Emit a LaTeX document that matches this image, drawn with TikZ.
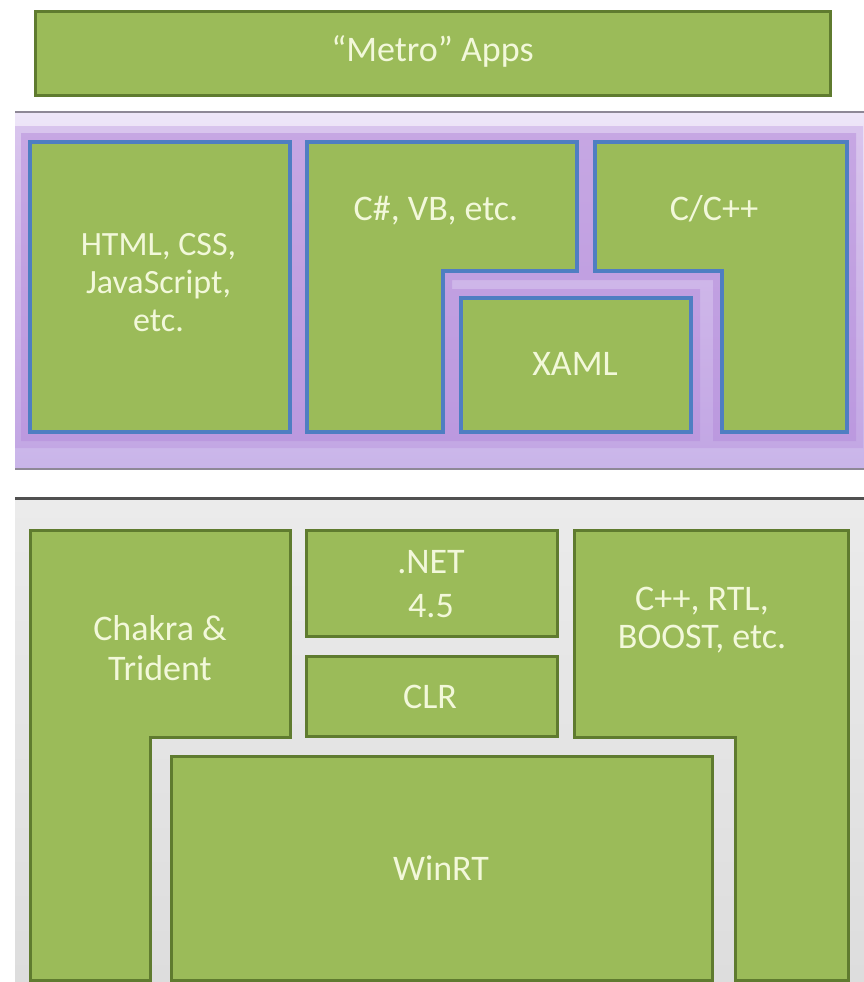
\documentclass[tikz,border=0pt]{standalone}
\usepackage{fontspec}
\setmainfont{Carlito}
\definecolor{boxgreen}{HTML}{9BBB59}
\definecolor{greenline}{HTML}{5F7B2F}
\definecolor{boxblue}{HTML}{4F7EC2}
\definecolor{glow}{HTML}{B58BDB}
\definecolor{bandtop}{HTML}{EEE6F8}
\definecolor{bandbot}{HTML}{C9B4E9}
\definecolor{bandline}{HTML}{8E8896}
\definecolor{sepline}{HTML}{505050}
\definecolor{labelcol}{HTML}{F2F8DA}
\definecolor{greytop}{HTML}{EBEBEB}
\definecolor{greybot}{HTML}{DDDDDD}
\tikzset{
  lbl/.style={text=labelcol, font=\fontsize{36}{42}\selectfont, anchor=base, inner sep=0pt},
  lblsmall/.style={lbl, font=\fontsize{34}{40}\selectfont},
  greenbox/.style={fill=boxgreen, draw=greenline, line width=3pt},
  bluebox/.style={fill=boxgreen, draw=boxblue, line width=4pt},
  glowpath/.style={draw=glow, line join=miter},
}
\newcommand{\glowshapes}{%
  (30,142) rectangle (290,432)
  (307,142) -- (577,142) -- (577,271) -- (443,271) -- (443,432) -- (307,432) -- cycle
  (595,142) -- (847,142) -- (847,432) -- (722,432) -- (722,271) -- (595,271) -- cycle
  (461,298) rectangle (691,432)}
\begin{document}
\begin{tikzpicture}[x=1pt,y=-1pt]
\useasboundingbox (0,0) rectangle (864,982);
\fill[white] (0,0) rectangle (864,982);

% top box
\draw[greenbox] (35,12) rectangle (830,95);
\node[lbl] (metro) at (432.5,62) {“Metro” Apps};

% purple band
\shade[top color=bandtop, bottom color=bandbot] (15,112) rectangle (864,469);
\draw[bandline, line width=1.5pt] (15,112) -- (864,112);
\draw[bandline, line width=1.5pt] (15,469) -- (864,469);

% soft glows
\begin{scope}
  \clip (15,113) rectangle (864,468);
  \begin{scope}[transparency group, opacity=0.35]
    \draw[glowpath, line width=32pt] \glowshapes;
  \end{scope}
  \begin{scope}[transparency group, opacity=0.5]
    \draw[glowpath, line width=18pt] \glowshapes;
  \end{scope}
\end{scope}

% blue boxes
\draw[bluebox] (30,142) rectangle (290,432);
\draw[bluebox] (307,142) -- (577,142) -- (577,271) -- (443,271) -- (443,432) -- (307,432) -- cycle;
\draw[bluebox] (595,142) -- (847,142) -- (847,432) -- (722,432) -- (722,271) -- (595,271) -- cycle;
\draw[bluebox] (461,298) rectangle (691,432);

\node[lblsmall] (html1) at (158.5,255) {HTML, CSS,};
\node[lblsmall] (html2) at (158.5,293) {JavaScript,};
\node[lblsmall] (html3) at (158.5,331) {etc.};
\node[lbl] (csharp) at (436,220) {C\#, VB, etc.};
\node[lbl] (cpp) at (714,220) {C/C++};
\node[lbl] (xaml) at (575,375) {XAML};

% separator
\draw[sepline, line width=3pt] (15,498.5) -- (864,498.5);

% grey area
\shade[top color=greytop, bottom color=greybot] (15,500) rectangle (864,982);

% bottom boxes
\draw[greenbox] (30,530) -- (290,530) -- (290,737) -- (150,737) -- (150,980) -- (30,980) -- cycle;
\draw[greenbox] (306,530) rectangle (557,636);
\draw[greenbox] (306,656) rectangle (557,736);
\draw[greenbox] (574,530) -- (848,530) -- (848,980) -- (735,980) -- (735,737) -- (574,737) -- cycle;
\draw[greenbox] (171,756) rectangle (712,980);

\node[lbl] (chakra1) at (160,640) {Chakra \&};
\node[lbl] (chakra2) at (160,680) {Trident};
\node[lbl] (net1) at (431,573) {.NET};
\node[lbl] (net2) at (431,617) {4.5};
\node[lbl] (clr) at (430,708) {CLR};
\node[lbl] (rtl1) at (702,610) {C++, RTL,};
\node[lbl] (rtl2) at (702,648) {BOOST, etc.};
\node[lbl] (winrt) at (441,880) {WinRT};
\end{tikzpicture}
\end{document}
